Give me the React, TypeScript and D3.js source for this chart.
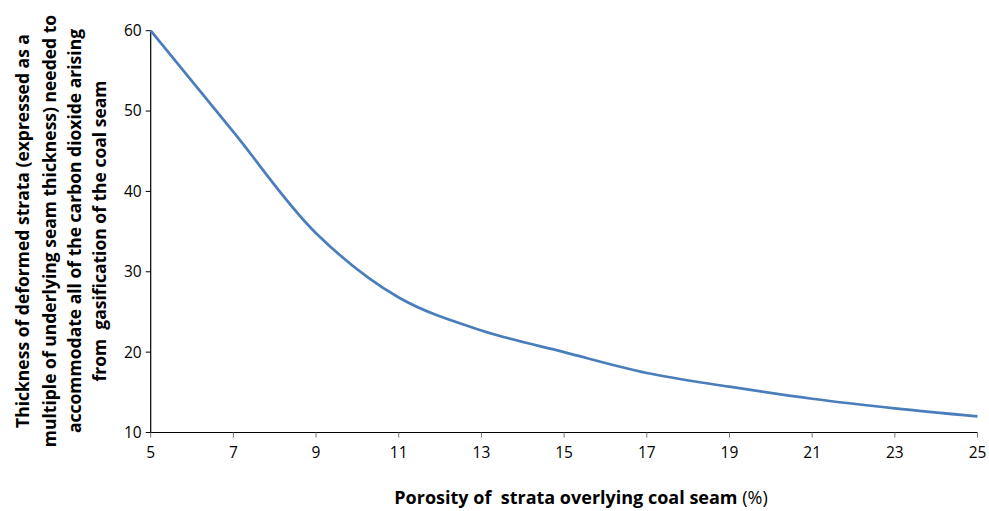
import React from "react";
import * as d3 from "d3";

const porosity = [5, 7, 9, 11, 13, 15, 17, 19, 21, 23, 25];
const thickness = [60, 47.4, 34.8, 26.8, 22.7, 20.0, 17.4, 15.7, 14.2, 13.0, 12.0];
const xTicks = [5, 7, 9, 11, 13, 15, 17, 19, 21, 23, 25];
const yTicks = [10, 20, 30, 40, 50, 60];
const yTitleLines = [
  "Thickness of deformed strata (expressed as a",
  "multiple of underlying seam thickness) needed to",
  "accommodate all of the carbon dioxide arising",
  "from\u00a0 gasification of the coal seam",
];

const W = 989;
const H = 511;
const FONT = "'Open Sans', 'Noto Sans', sans-serif";

export default function App() {
  const x = d3.scaleLinear().domain([5, 25]).range([150.7, 977.5]);
  const y = d3.scaleLinear().domain([10, 60]).range([432.5, 30.7]);
  const data = porosity.map((p, i) => [p, thickness[i]] as [number, number]);
  const line = d3
    .line<[number, number]>()
    .x((d) => x(d[0]))
    .y((d) => y(d[1]))
    .curve(d3.curveCatmullRom.alpha(0.5));

  const lineX = [23, 50, 75, 100];

  return (
    <svg
      width={W}
      height={H}
      style={{ position: "absolute", left: 0, top: 0, background: "#fff" }}
      fontFamily={FONT}
    >
      <line x1={x(5)} x2={x(5)} y1={y(60)} y2={y(10)} stroke="#000" strokeWidth={1.2} />
      <line x1={x(5)} x2={x(25)} y1={y(10)} y2={y(10)} stroke="#000" strokeWidth={1.2} />
      {yTicks.map((t) => (
        <g key={"y" + t}>
          <line x1={x(5) - 5} x2={x(5)} y1={y(t)} y2={y(t)} stroke="#000" strokeWidth={1} />
          <text x={x(5) - 9} y={y(t)} dy="0.35em" textAnchor="end" fontSize={15.5} fill="#000">
            {t}
          </text>
        </g>
      ))}
      {xTicks.map((t) => (
        <g key={"x" + t}>
          <line x1={x(t)} x2={x(t)} y1={y(10)} y2={y(10) + 5} stroke="#777" strokeWidth={1} />
          <text x={x(t)} y={y(10) + 25} textAnchor="middle" fontSize={15.5} fill="#000">
            {t}
          </text>
        </g>
      ))}
      <path d={line(data) || ""} fill="none" stroke="#4a7ebb" strokeWidth={2.7} />
      {yTitleLines.map((s, i) => (
        <text
          key={i}
          transform={`translate(${lineX[i]},231) rotate(-90)`}
          textAnchor="middle"
          dy="0.35em"
          fontSize={17.5}
          fontWeight="bold"
          fill="#000"
        >
          {s}
        </text>
      ))}
      <text x={581} y={504} textAnchor="middle" fontSize={18} fill="#000">
        <tspan fontWeight="bold">{"Porosity of\u00a0 strata overlying coal seam "}</tspan>
        <tspan>(%)</tspan>
      </text>
    </svg>
  );
}
